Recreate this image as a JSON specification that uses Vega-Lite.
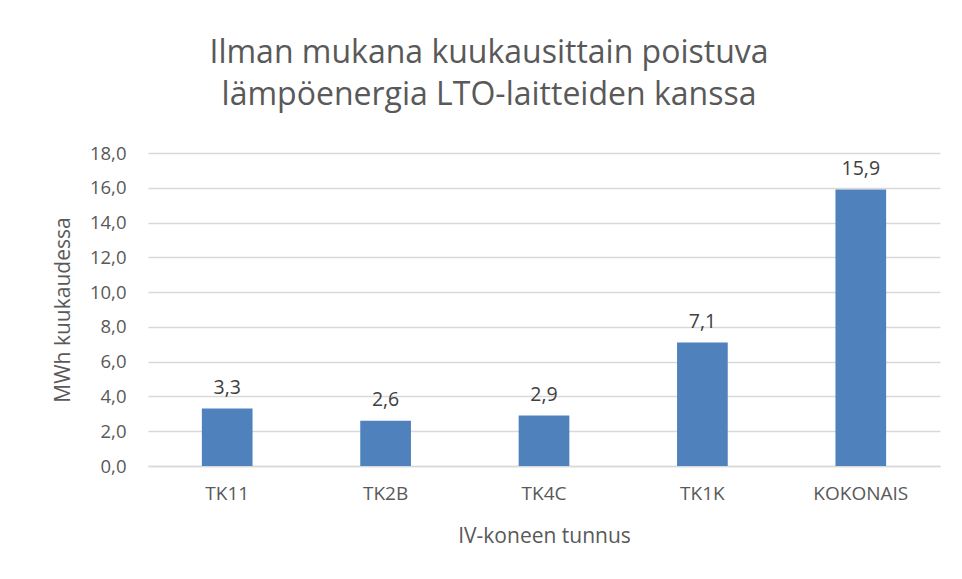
{
  "$schema": "https://vega.github.io/schema/vega-lite/v6.json",
  "width": 792,
  "height": 313,
  "autosize": {"type": "none"},
  "padding": {"left": 148, "top": 153, "right": 22, "bottom": 113},
  "background": "white",
  "config": {
    "locale": {"number": {"decimal": ",", "thousands": " ", "grouping": [3], "currency": ["", " €"]}},
    "view": {"stroke": null},
    "font": "Open Sans"
  },
  "title": {
    "text": ["Ilman mukana kuukausittain poistuva", "lämpöenergia LTO-laitteiden kanssa"],
    "fontSize": 32,
    "fontWeight": "normal",
    "color": "#595959",
    "font": "Open Sans",
    "anchor": "middle",
    "dx": -55,
    "offset": 32,
    "lineHeight": 42
  },
  "data": {
    "values": [
      {"tunnus": "TK11", "mwh": 3.3},
      {"tunnus": "TK2B", "mwh": 2.6},
      {"tunnus": "TK4C", "mwh": 2.9},
      {"tunnus": "TK1K", "mwh": 7.1},
      {"tunnus": "KOKONAIS", "mwh": 15.9}
    ]
  },
  "encoding": {
    "x": {
      "field": "tunnus",
      "type": "nominal",
      "sort": null,
      "title": "IV-koneen tunnus",
      "scale": {"paddingInner": 0.68, "paddingOuter": 0.34},
      "axis": {
        "labelAngle": 0,
        "labelFontSize": 19,
        "labelColor": "#595959",
        "labelPadding": 18,
        "ticks": false,
        "domainColor": "#d9d9d9",
        "domainWidth": 1.5,
        "titleFontSize": 21,
        "titleFontWeight": "normal",
        "titleColor": "#595959",
        "titlePadding": 22
      }
    },
    "y": {
      "field": "mwh",
      "type": "quantitative",
      "title": "MWh kuukaudessa",
      "scale": {"domain": [0, 18], "nice": false},
      "axis": {
        "values": [0, 2, 4, 6, 8, 10, 12, 14, 16, 18],
        "format": ".1f",
        "labelFontSize": 18.5,
        "labelColor": "#595959",
        "labelPadding": 22,
        "ticks": false,
        "domain": false,
        "gridColor": "#d9d9d9",
        "gridWidth": 1.5,
        "titleFontSize": 21,
        "titleFontWeight": "normal",
        "titleColor": "#595959",
        "titlePadding": 16
      }
    }
  },
  "layer": [
    {"mark": {"type": "bar", "color": "#4f81bd"}},
    {
      "mark": {"type": "text", "baseline": "bottom", "dy": -11, "fontSize": 19.5, "color": "#404040"},
      "encoding": {"text": {"field": "mwh", "type": "quantitative", "format": ".1f"}}
    }
  ]
}
